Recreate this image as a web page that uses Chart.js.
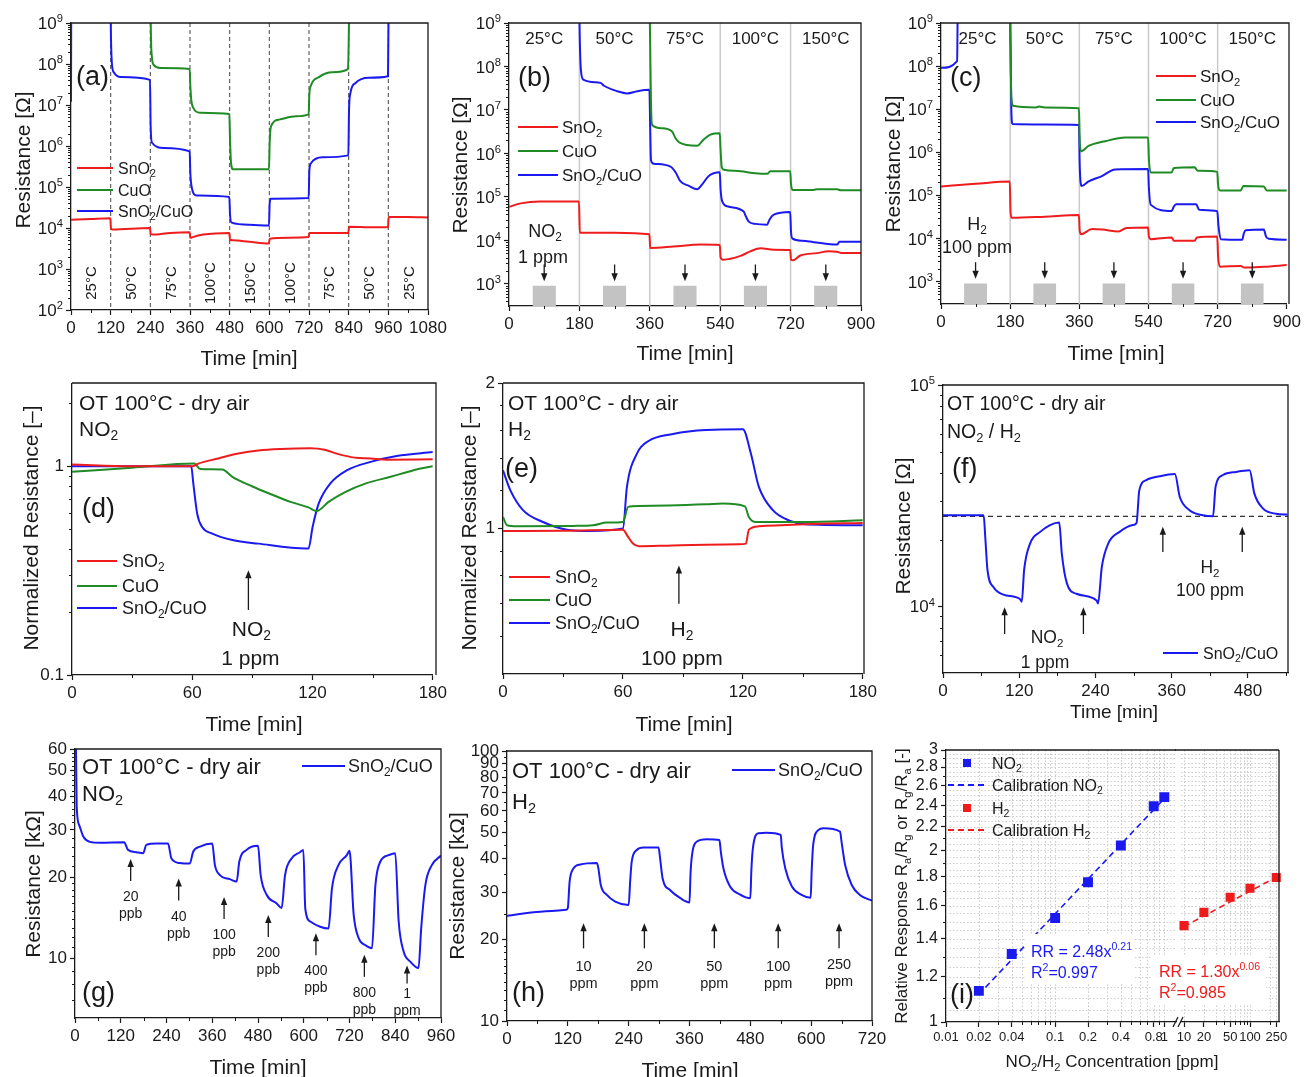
<!DOCTYPE html>
<html lang="en">
<head>
<meta charset="UTF-8">
<title>SnO2/CuO sensor - resistance and response</title>
<script src="https://cdn.jsdelivr.net/npm/chart.js"></script>
<style>
  body { margin: 0; background: #fff; }
  #page { position: relative; width: 1304px; height: 1077px; overflow: hidden; background: #fff; }
  #page canvas { position: absolute; }
</style>
</head>
<body>
<div id="page"></div>
<script>
const FONT = 'Arial, "Liberation Sans", sans-serif';
Chart.defaults.font.family = FONT;
Chart.defaults.color = '#1a1a1a';
const RED = '#ee1c1c', GREEN = '#1f8b24', BLUE = '#1a1af0', INK = '#1a1a1a';
const names = ['SnO_2', 'CuO', 'SnO_2/CuO'];

// ---- (a) temperature cycle, resistance in Ohm ----
const aTemps = ['25°C', '50°C', '75°C', '100°C', '150°C', '100°C', '75°C', '50°C', '25°C'];
const aSwitch = [120, 240, 360, 480, 600, 720, 840, 960];
const aTicksX = [0, 120, 240, 360, 480, 600, 720, 840, 960, 1080];
const aTicksY = [1e2, 1e3, 1e4, 1e5, 1e6, 1e7, 1e8, 1e9];
const aSnO2 = [[0,1.58e4],[60,1.66e4],[119,1.74e4],[121,9.6e3],[126,9.2e3],[239,1.0e4],[241,7.1e3],[246,6.9e3],[300,7.6e3],[359,7.9e3],[361,5.7e3],[366,5.9e3],[400,6.9e3],[479,7.6e3],[481,5.2e3],[490,5.0e3],[540,4.6e3],[599,4.2e3],[601,5.5e3],[660,5.8e3],[719,6.0e3],[721,7.6e3],[780,7.5e3],[839,7.5e3],[841,1.08e4],[900,1.05e4],[959,1.04e4],[961,1.85e4],[1020,1.85e4],[1080,1.8e4]];
const aCuO = [[240,5e9],[242,4e8],[245,1.4e8],[250,9.5e7],[270,8e7],[359,7.6e7],[361,3e7],[364,1.3e7],[370,8.5e6],[390,6.5e6],[479,6e6],[481,1.5e6],[484,4e5],[490,2.7e5],[599,2.7e5],[601,1.2e6],[605,3e6],[630,4.4e6],[680,5.3e6],[719,5.9e6],[721,1.8e7],[726,3e7],[750,4.8e7],[790,6.3e7],[838,7.5e7],[840,3e8],[842,5e9]];
const aMix = [[0,1.2e7],[1,5e9],[119,5e9],[121,4e8],[124,9.5e7],[130,6.2e7],[150,4.8e7],[239,4.1e7],[241,3e6],[245,1.2e6],[280,9e5],[359,7.4e5],[361,2.2e5],[365,1.0e5],[380,6.2e4],[479,5.7e4],[481,2.2e4],[486,1.35e4],[540,1.2e4],[599,1.15e4],[601,4e4],[605,5.2e4],[719,5.4e4],[721,2.5e5],[726,3.8e5],[760,5.3e5],[839,5.9e5],[841,7e6],[845,1.9e7],[860,3.4e7],[900,4.6e7],[959,5e7],[961,5e9]];

// ---- (b) NO2 1 ppm and (c) H2 100 ppm at each temperature ----
const bTemps = ['25°C', '50°C', '75°C', '100°C', '150°C'];
const bSwitch = [180, 360, 540, 720];
const bTicksX = [0, 180, 360, 540, 720, 900];
const bTicksY = [1e3, 1e4, 1e5, 1e6, 1e7, 1e8, 1e9];
const bPulses = [[60, 120], [240, 300], [420, 480], [600, 660], [780, 840]];
const pulseTop = 900;
const bSnO2 = [[0,5.9e4],[30,7.1e4],[80,7.8e4],[179,7.8e4],[181,1.5e4],[270,1.5e4],[359,1.38e4],[361,6.7e3],[420,7.2e3],[490,8e3],[539,7.8e3],[541,4.1e3],[547,3.6e3],[592,4.4e3],[617,5.6e3],[643,6.6e3],[677,6.1e3],[719,6e3],[721,3.6e3],[726,3.5e3],[745,4.5e3],[788,5.1e3],[817,5.6e3],[839,5.5e3],[850,5.1e3],[900,5.1e3]];
const bCuO = [[359,5e9],[361,3e8],[363,1.5e7],[366,4.5e6],[390,3.8e6],[417,3.2e6],[425,2.3e6],[435,1.8e6],[481,1.5e6],[498,2.1e6],[515,2.7e6],[539,2.9e6],[541,1.2e6],[544,4.8e5],[550,4.2e5],[592,3.9e5],[630,3.5e5],[660,3.4e5],[668,3.9e5],[719,3.9e5],[721,2e5],[725,1.45e5],[779,1.45e5],[788,1.5e5],[839,1.5e5],[848,1.42e5],[900,1.42e5]];
const bMix = [[179,5e9],[181,4e8],[184,8e7],[190,5e7],[234,4.2e7],[243,3.6e7],[277,2.7e7],[302,2.4e7],[328,2.7e7],[359,2.9e7],[361,4e6],[363,7e5],[370,5.8e5],[413,5e5],[425,3.8e5],[438,2.3e5],[460,1.8e5],[481,1.5e5],[495,2e5],[510,3e5],[539,3.7e5],[541,1.5e5],[545,8e4],[560,6e4],[600,4.6e4],[606,3.5e4],[613,2.7e4],[630,2.4e4],[660,2.3e4],[666,3e4],[677,3.9e4],[719,4.5e4],[721,1.6e4],[725,1.1e4],[750,9.8e3],[779,9.1e3],[839,8e3],[845,9.3e3],[900,9.3e3]];
const cSnO2 = [[0,1.6e5],[90,1.85e5],[179,2.1e5],[181,4e4],[184,3e4],[270,3.2e4],[359,3.5e4],[361,1.5e4],[365,1.25e4],[393,1.65e4],[420,1.6e4],[462,1.45e4],[483,1.75e4],[539,1.8e4],[541,1.1e4],[546,9.6e3],[600,1.05e4],[606,8.8e3],[660,8.8e3],[666,1.05e4],[719,1.1e4],[721,4e3],[726,2.2e3],[780,2.3e3],[789,2.1e3],[840,2.2e3],[900,2.4e3]];
const cCuO = [[179,5e9],[181,3e8],[183,2e7],[188,1.2e7],[247,1.1e7],[255,1.15e7],[270,1.1e7],[359,1.05e7],[361,2e6],[364,1.05e6],[384,1.4e6],[427,1.8e6],[479,2.2e6],[539,2.2e6],[541,7e5],[546,3.4e5],[600,3.4e5],[606,4.3e5],[660,4.5e5],[668,3.7e5],[719,3.5e5],[721,1.8e5],[726,1.3e5],[780,1.3e5],[787,1.65e5],[840,1.6e5],[848,1.3e5],[900,1.3e5]];
const cMix = [[0,9.1e7],[42,1.3e8],[44,5e9],[179,5e9],[181,3e8],[183,1e7],[186,4.5e6],[270,4.4e6],[359,4.3e6],[361,5e5],[366,1.65e5],[384,2.1e5],[419,2.8e5],[453,4e5],[539,4.1e5],[541,1.5e5],[546,6e4],[600,4.3e4],[606,5.5e4],[612,6.2e4],[664,6.2e4],[672,4.6e4],[719,4.3e4],[722,2e4],[728,9.6e3],[784,9.3e3],[788,1.3e4],[793,1.55e4],[840,1.6e4],[846,1.1e4],[853,9.8e3],[900,9.3e3]];

// ---- (d) NO2 and (e) H2 at 100 °C, normalized resistance ----
const dTicksX = [0, 60, 120, 180];
const dTicksY = [0.1, 1];
const eTicksY = [1, 2];
const dSnO2 = [[0,1.02],[30,1.0],[60,1.0],[63,1.03],[73,1.09],[83,1.15],[93,1.19],[104,1.21],[119,1.22],[126,1.2],[132,1.15],[141,1.10],[149,1.09],[157,1.075],[180,1.08]];
const dCuO = [[0,0.94],[30,0.985],[61,1.03],[64,0.97],[75,0.965],[80,0.89],[90,0.80],[100,0.73],[109,0.675],[118,0.635],[122,0.61],[128,0.675],[136,0.75],[147,0.83],[159,0.89],[170,0.955],[180,1.0]];
const dMix = [[0,1.0],[59.5,1.0],[60.5,0.83],[62.5,0.59],[65,0.51],[70,0.476],[80,0.443],[93,0.426],[117,0.404],[118,0.404],[120,0.51],[123,0.66],[129,0.83],[137,0.955],[149,1.05],[162,1.12],[180,1.17]];
const eSnO2 = [[0,0.989],[30,0.99],[60,0.995],[62.6,0.961],[65,0.931],[68,0.919],[85,0.923],[118,0.928],[121.5,0.931],[123,0.995],[128,1.011],[151,1.021],[180,1.027]];
const eCuO = [[0,1.057],[2,1.016],[7,1.011],[35,1.013],[45,1.016],[52,1.029],[60,1.032],[62.6,1.109],[68,1.114],[101.6,1.123],[110,1.127],[121,1.112],[123,1.057],[126.5,1.032],[151,1.032],[180,1.041]];
const eMix = [[0,1.32],[3.7,1.20],[10,1.092],[20,1.032],[32,0.995],[43.5,0.989],[60,1.0],[62,1.22],[67,1.43],[73,1.52],[85,1.57],[101.6,1.60],[120,1.605],[124,1.43],[128,1.22],[135,1.092],[143,1.04],[151,1.021],[180,1.016]];

// ---- (f) NO2 / H2 sequence, SnO2/CuO ----
const fTicksX = [0, 120, 240, 360, 480];
const fTicksY = [1e4, 1e5];
const fBaseline = 2.55e4;
const fMix = [[0,2.58e4],[64,2.58e4],[66.5,2.06e4],[70,1.46e4],[79.6,1.22e4],[95,1.13e4],[121,1.08e4],[124,1.05e4],[127.7,1.46e4],[137,1.92e4],[153,2.17e4],[168.5,2.33e4],[183,2.39e4],[187,1.73e4],[195,1.27e4],[210,1.14e4],[242,1.06e4],[244,1.03e4],[250,1.51e4],[260,1.92e4],[278,2.17e4],[299,2.33e4],[304.6,2.38e4],[309,3.35e4],[320,3.72e4],[341,3.87e4],[365,3.96e4],[372.7,3.12e4],[388,2.72e4],[409,2.58e4],[425,2.55e4],[429,3.47e4],[440.7,3.92e4],[461.6,4.05e4],[482.6,4.12e4],[490,3.24e4],[503.5,2.77e4],[524.5,2.62e4],[542,2.6e4]];
const fNO2Arrows = [97, 221];
const fH2Arrows = [346, 471];

// ---- (g) NO2 steps and (h) H2 steps, kOhm ----
const gTicksX = [0, 120, 240, 360, 480, 600, 720, 840, 960];
const gTicksY = [10, 20, 30, 40, 50, 60];
const gMix = [[0,75],[2.6,59.6],[4.5,36.5],[11,31.3],[22,28.3],[39,27.1],[66,26.9],[129,27.0],[139,25.3],[161,24.8],[179,24.6],[187,26.4],[214,26.7],[244,26.7],[253,23.5],[275,22.6],[301,22.5],[310,24.9],[328,26.0],[360,26.7],[367,22.2],[380,20.4],[406,19.7],[424,19.3],[431,22.9],[450,25.3],[480,26.2],[487,20.4],[503,17.2],[529,16.0],[542,15.4],[551,20.4],[568,23.5],[590,24.8],[599,25.3],[604,15.3],[617,13.7],[643,13.1],[665,12.9],[674,18.2],[691,22.2],[713,24.2],[720,25.1],[731,14.5],[744,11.9],[761,11.2],[779,10.9],[788,18.7],[801,22.9],[823,24.2],[840,24.6],[849,13.7],[862,10.6],[880,9.7],[901,9.2],[908,12.9],[919,18.7],[936,22.2],[960,24.1]];
const gDoses = [['20','ppb'],['40','ppb'],['100','ppb'],['200','ppb'],['400','ppb'],['800','ppb'],['1','ppm']];
const gArrowX = [146, 272, 391, 507, 632, 759, 871];
const gArrowTip = [23.4, 19.8, 16.9, 14.5, 12.4, 10.3, 9.4];
const hTicksX = [0, 120, 240, 360, 480, 600, 720];
const hTicksY = [10, 20, 30, 40, 50, 60, 70, 80, 90, 100];
const hMix = [[0,24.5],[66,25.4],[117,25.8],[120,26.2],[123.5,32.8],[131,36.7],[144.5,38.0],[177,38.5],[180,37],[185,31.9],[197,29.3],[213.5,27.7],[240,26.9],[243,33],[246,38.9],[256,43.0],[269,43.9],[299,43.9],[302,40],[307,33.7],[322,30.5],[342,28.5],[360,27.5],[362,35],[365,41.2],[374,46.1],[394,47.1],[419,46.8],[422,42],[427,36.7],[440,31.5],[460,29.4],[480,28.5],[482,36],[485,43.6],[496,49.6],[512,49.8],[540,48.9],[542,44],[549,36.7],[562,31.5],[581,29.3],[599,28.6],[601,36],[604,44.9],[614,50.9],[624,51.7],[657,50.3],[660,46],[667,37.8],[680,31.9],[696,29.3],[720,27.9]];
const hDoses = ['10', '20', '50', '100', '250'];
const hArrowX = [151, 271, 409, 535, 655];
const hArrowTip = 23;

// ---- (i) calibration ----
const iTicksXL = [0.01, 0.02, 0.04, 0.1, 0.2, 0.4, 0.8, 1];
const iTicksXR = [10, 20, 50, 100, 250];
const iTicksY = [1, 1.2, 1.4, 1.6, 1.8, 2, 2.2, 2.4, 2.6, 2.8, 3];
const iNO2x = [0.02, 0.04, 0.1, 0.2, 0.4, 0.8, 1];
const iNO2y = [1.134, 1.316, 1.522, 1.759, 2.04, 2.39, 2.48];
const iH2x = [10, 20, 50, 100, 250];
const iH2y = [1.476, 1.557, 1.655, 1.717, 1.793];
const iCalNO2 = [[0.023, 1.15], [0.95, 2.44]];
const iCalH2 = [[10, 1.47], [260, 1.80]];

// ---------- helpers ----------
function logMinor(lo, hi) {
  const out = [];
  for (let e = Math.floor(Math.log10(lo)); e <= Math.ceil(Math.log10(hi)); e++) {
    for (let m = 2; m <= 9; m++) {
      const v = +(m * Math.pow(10, e)).toPrecision(6);
      if (v > lo && v < hi) out.push(v);
    }
  }
  return out;
}
function steps(a, b, s) {
  const o = [];
  for (let v = a; v <= b + 1e-9; v += s) o.push(+v.toFixed(6));
  return o;
}
const zip = (xs, ys) => xs.map((x, i) => [x, ys[i]]);

// text with _sub and ^sup parts; y is the middle of the capitals
function rich(ctx, str, x, y, size, o) {
  o = o || {};
  const segs = [];
  let i = 0, buf = '';
  while (i < str.length) {
    const ch = str[i];
    if ((ch === '_' || ch === '^') && i + 1 < str.length) {
      if (buf) { segs.push({t: buf, k: 0}); buf = ''; }
      let s;
      if (str[i + 1] === '{') { const j = str.indexOf('}', i); s = str.slice(i + 2, j); i = j + 1; }
      else { s = str[i + 1]; i += 2; }
      segs.push({t: s, k: ch === '_' ? 1 : -1});
    } else { buf += ch; i++; }
  }
  if (buf) segs.push({t: buf, k: 0});
  const fnt = k => (k ? size * 0.66 : size) + 'px ' + FONT;
  let w = 0;
  segs.forEach(s => { ctx.font = fnt(s.k); s.w = ctx.measureText(s.t).width; w += s.w; });
  ctx.save();
  ctx.translate(x, y);
  if (o.rot) ctx.rotate(o.rot);
  ctx.fillStyle = o.color || INK;
  ctx.textBaseline = 'alphabetic';
  ctx.textAlign = 'left';
  let cx = o.align === 'center' ? -w / 2 : o.align === 'right' ? -w : 0;
  segs.forEach(s => {
    ctx.font = fnt(s.k);
    const dy = s.k === 1 ? size * 0.2 : s.k === -1 ? -size * 0.4 : 0;
    ctx.fillText(s.t, cx, size * 0.36 + dy);
    cx += s.w;
  });
  ctx.restore();
  return w;
}
function line(ctx, x0, y0, x1, y1, color, width, dash) {
  ctx.save();
  ctx.strokeStyle = color; ctx.lineWidth = width; ctx.setLineDash(dash || []);
  ctx.beginPath(); ctx.moveTo(x0, y0); ctx.lineTo(x1, y1); ctx.stroke();
  ctx.restore();
}
function arrow(ctx, x, y0, y1) {
  const dir = Math.sign(y1 - y0);
  line(ctx, x, y0, x, y1 - dir * 6, INK, 1.3);
  ctx.save();
  ctx.fillStyle = INK;
  ctx.beginPath(); ctx.moveTo(x, y1); ctx.lineTo(x - 3.2, y1 - dir * 8); ctx.lineTo(x + 3.2, y1 - dir * 8);
  ctx.closePath(); ctx.fill();
  ctx.restore();
}
function legend(ctx, rows, x0, x1, tx, size) {
  rows.forEach(r => {
    if (r.marker) {
      ctx.fillStyle = r.color;
      ctx.fillRect((x0 + x1) / 2 - 4, r.y - 4, 8, 8);
    } else {
      line(ctx, x0, r.y, x1, r.y, r.color, 2.2, r.dash);
    }
    rich(ctx, r.label, tx, r.y, size);
  });
}
const threeRows = ys => names.map((n, i) => ({y: ys[i], color: [RED, GREEN, BLUE][i], label: n}));
function frame(ctx, a) {
  ctx.save(); ctx.strokeStyle = INK; ctx.lineWidth = 1.3;
  ctx.beginPath(); ctx.moveTo(a.l, a.t); ctx.lineTo(a.r, a.t); ctx.lineTo(a.r, a.b); ctx.stroke();
  ctx.restore();
}
function minor(ctx, X, Y, a, xs, ys) {
  ctx.save(); ctx.strokeStyle = INK; ctx.lineWidth = 1; ctx.beginPath();
  (xs || []).forEach(v => { const px = Math.round(X(v)) + 0.5; ctx.moveTo(px, a.b); ctx.lineTo(px, a.b + 3); });
  (ys || []).forEach(v => { const py = Math.round(Y(v)) + 0.5; ctx.moveTo(a.l, py); ctx.lineTo(a.l - 3, py); });
  ctx.stroke(); ctx.restore();
}
function grid(ctx, X, Y, a, xs, ys) {
  ctx.save(); ctx.strokeStyle = '#cdcdcd'; ctx.lineWidth = 1; ctx.setLineDash([1.5, 2]);
  ctx.beginPath();
  xs.forEach(v => { const px = Math.round(X(v)) + 0.5; ctx.moveTo(px, a.t); ctx.lineTo(px, a.b); });
  ys.forEach(v => { const py = Math.round(Y(v)) + 0.5; ctx.moveTo(a.l, py); ctx.lineTo(a.r, py); });
  ctx.stroke(); ctx.restore();
}
function titles(ctx, xt, xc, yt, yc, size) {
  rich(ctx, xt[0], xc[0], xc[1], size || 21, {align: 'center'});
  rich(ctx, yt[0], yc[0], yc[1], yt[1] || 21, {align: 'center', rot: -Math.PI / 2});
}

function scaleOpts(ax, size, horiz) {
  return {
    type: ax.log ? 'logarithmic' : 'linear',
    display: !ax.hide,
    min: ax.min, max: ax.max,
    afterBuildTicks: s => { s.ticks = ax.ticks.map(v => ({value: v})); },
    afterFit: s => { if (horiz) s.height = size; else s.width = size; },
    ticks: { autoSkip: false, maxRotation: 0, minRotation: 0, padding: 3, color: INK,
             font: {size: ax.fs || 17}, callback: v => ax.pow ? '' : String(v) },
    grid: { drawOnChartArea: false, drawTicks: true, tickLength: 5, color: INK, tickColor: INK, tickWidth: 1.2 },
    border: { display: true, color: INK, width: 1.3 }
  };
}

const page = document.getElementById('page');
function panel(p) {
  const [bl, bt, bw, bh] = p.box;
  const [al, at, ar, ab] = p.area;
  const area = {l: al, t: at, r: ar, b: ab};
  const cv = document.createElement('canvas');
  cv.width = bw; cv.height = bh;
  cv.style.left = bl + 'px'; cv.style.top = bt + 'px';
  cv.style.width = bw + 'px'; cv.style.height = bh + 'px';
  page.appendChild(cv);
  const run = fn => chart => {
    const ctx = chart.ctx, sx = chart.scales.x, sy = chart.scales.y;
    const X = v => sx.getPixelForValue(v) + bl;
    const Y = v => sy.getPixelForValue(v) + bt;
    ctx.save(); ctx.translate(-bl, -bt);
    fn(ctx, X, Y, area);
    ctx.restore();
  };
  const deco = {
    id: 'deco',
    beforeDatasetsDraw: run((ctx, X, Y, a) => { if (p.under) p.under(ctx, X, Y, a); }),
    afterDatasetsDraw: run((ctx, X, Y, a) => {
      if (!p.noFrame) frame(ctx, a);
      minor(ctx, X, Y, a, p.x.minor, p.y.hide ? null : p.y.minor);
      if (p.y.pow) p.y.ticks.forEach(v => rich(ctx, '10^{' + Math.round(Math.log10(v)) + '}', a.l - 8, Y(v), p.y.fs || 17, {align: 'right'}));
      if (p.over) p.over(ctx, X, Y, a);
    })
  };
  return new Chart(cv, {
    type: 'line',
    data: {
      datasets: p.series.map(s => ({
        data: s.data,
        borderColor: s.fill ? 'rgba(0,0,0,0)' : s.color,
        backgroundColor: s.color,
        borderWidth: s.width || 2,
        borderDash: s.dash || [],
        showLine: !s.points,
        pointRadius: s.r || 0,
        pointStyle: 'rect',
        cubicInterpolationMode: 'monotone',
        fill: s.fill ? 'start' : false,
        clip: s.points ? false : undefined
      }))
    },
    options: {
      responsive: false, animation: false, devicePixelRatio: 1, events: [],
      // the y axis box keeps its fixed width even when hidden, so no extra left padding
      layout: { autoPadding: false, padding: { left: 0, top: at - bt, right: bl + bw - ar, bottom: 0 } },
      plugins: { legend: {display: false}, tooltip: {enabled: false} },
      scales: { x: scaleOpts(p.x, bt + bh - ab, true), y: scaleOpts(p.y, al - bl, false) }
    },
    plugins: [deco]
  });
}
const mids = (edges) => edges.slice(1).map((e, i) => (edges[i] + e) / 2);
const pulseBars = pulses => pulses.map(([t0, t1]) => ({data: [[t0, pulseTop], [t1, pulseTop]], color: '#c3c3c3', fill: true}));

// ---------- (a) ----------
panel({
  box: [0, 0, 450, 372], area: [71, 23, 428, 310],
  x: {min: 0, max: 1080, ticks: aTicksX, minor: steps(60, 1020, 120)},
  y: {log: true, min: 1e2, max: 1e9, ticks: aTicksY, pow: true, minor: logMinor(1e2, 1e9)},
  series: [{data: aSnO2, color: RED}, {data: aCuO, color: GREEN}, {data: aMix, color: BLUE}],
  under(ctx, X, Y, a) { aSwitch.forEach(t => line(ctx, X(t), a.t, X(t), a.b, '#555', 1.1, [4, 3])); },
  over(ctx, X, Y, a) {
    mids([0, ...aSwitch, 1080]).forEach((t, i) => rich(ctx, aTemps[i], X(t), a.b - 27, 15, {align: 'center', rot: -Math.PI / 2}));
    legend(ctx, threeRows([168, 190, 211]), 77, 113, 118, 16);
    rich(ctx, '(a)', 76, 75, 27);
    titles(ctx, ['Time [min]'], [249, 357], ['Resistance [Ω]'], [22, 160]);
  }
});

// ---------- (b) ----------
panel({
  box: [440, 0, 440, 372], area: [509, 23, 861, 306],
  x: {min: 0, max: 900, ticks: bTicksX, minor: steps(90, 810, 180)},
  y: {log: true, min: 310, max: 1e9, ticks: bTicksY, pow: true, minor: logMinor(310, 1e9)},
  series: [{data: bSnO2, color: RED}, {data: bCuO, color: GREEN}, {data: bMix, color: BLUE}, ...pulseBars(bPulses)],
  under(ctx, X, Y, a) { bSwitch.forEach(t => line(ctx, X(t), a.t, X(t), a.b, '#cacaca', 1.5)); },
  over(ctx, X, Y, a) {
    mids([0, ...bSwitch, 900]).forEach((t, i) => rich(ctx, bTemps[i], X(t), 38, 17, {align: 'center'}));
    bPulses.forEach(([t0, t1]) => arrow(ctx, X((t0 + t1) / 2), Y(2.8e3), Y(1.15e3)));
    rich(ctx, 'NO_2', 545, 231, 18, {align: 'center'});
    rich(ctx, '1 ppm', 543, 257, 18, {align: 'center'});
    legend(ctx, threeRows([127, 151, 175]), 518, 558, 562, 17);
    rich(ctx, '(b)', 518, 76, 27);
    titles(ctx, ['Time [min]'], [685, 352], ['Resistance [Ω]'], [459, 165]);
  }
});

// ---------- (c) ----------
panel({
  box: [870, 0, 434, 372], area: [941, 23, 1289, 304],
  x: {min: 0, max: 900, ticks: bTicksX, minor: steps(90, 810, 180)},
  y: {log: true, min: 300, max: 1e9, ticks: bTicksY, pow: true, minor: logMinor(300, 1e9)},
  series: [{data: cSnO2, color: RED}, {data: cCuO, color: GREEN}, {data: cMix, color: BLUE}, ...pulseBars(bPulses)],
  under(ctx, X, Y, a) { bSwitch.forEach(t => line(ctx, X(t), a.t, X(t), a.b, '#cacaca', 1.5)); },
  over(ctx, X, Y, a) {
    mids([0, ...bSwitch, 900]).forEach((t, i) => rich(ctx, bTemps[i], X(t) + (i ? 0 : 2), 38, 17, {align: 'center'}));
    bPulses.forEach(([t0, t1]) => arrow(ctx, X((t0 + t1) / 2), Y(2.8e3), Y(1.15e3)));
    rich(ctx, 'H_2', 977, 224, 18, {align: 'center'});
    rich(ctx, '100 ppm', 977, 247, 18, {align: 'center'});
    legend(ctx, threeRows([76, 100, 122]), 1156, 1196, 1200, 17);
    rich(ctx, '(c)', 950, 76, 27);
    titles(ctx, ['Time [min]'], [1116, 352], ['Resistance [Ω]'], [892, 164]);
  }
});

// ---------- (d) ----------
panel({
  box: [0, 370, 450, 370], area: [72, 383, 436, 675],
  x: {min: 0, max: 180, ticks: dTicksX, minor: [30, 90, 150]},
  y: {log: true, min: 0.1, max: 2.5, ticks: dTicksY, minor: [0.2, 0.3, 0.4, 0.5, 0.6, 0.7, 0.8, 0.9, 2]},
  series: [{data: dSnO2, color: RED}, {data: dCuO, color: GREEN}, {data: dMix, color: BLUE}],
  over(ctx, X, Y, a) {
    rich(ctx, 'OT 100°C - dry air', 79, 402, 21);
    rich(ctx, 'NO_2', 79, 428, 21);
    rich(ctx, '(d)', 82, 507, 27);
    legend(ctx, threeRows([561, 586, 608]), 77, 117, 122, 18);
    arrow(ctx, X(88), Y(0.205), Y(0.318));
    rich(ctx, 'NO_2', X(88) + 3, 628, 21, {align: 'center'});
    rich(ctx, '1 ppm', X(88) + 2, 657, 21, {align: 'center'});
    titles(ctx, ['Time [min]'], [254, 723], ['Normalized Resistance [–]'], [30, 528]);
  }
});

// ---------- (e) ----------
panel({
  box: [440, 370, 440, 370], area: [503, 383, 864, 674],
  x: {min: 0, max: 180, ticks: dTicksX, minor: [30, 90, 150]},
  y: {log: true, min: 0.5, max: 2, ticks: eTicksY, minor: [0.6, 0.7, 0.8, 0.9, 1.2, 1.4, 1.6, 1.8]},
  series: [{data: eSnO2, color: RED}, {data: eCuO, color: GREEN}, {data: eMix, color: BLUE}],
  over(ctx, X, Y, a) {
    rich(ctx, 'OT 100°C - dry air', 508, 402, 21);
    rich(ctx, 'H_2', 508, 428, 21);
    rich(ctx, '(e)', 505, 467, 27);
    legend(ctx, threeRows([577, 600, 623]), 509, 550, 555, 18);
    arrow(ctx, X(88), Y(0.699), Y(0.839));
    rich(ctx, 'H_2', X(88) + 3, 628, 21, {align: 'center'});
    rich(ctx, '100 ppm', X(88) + 3, 657, 21, {align: 'center'});
    titles(ctx, ['Time [min]'], [684, 723], ['Normalized Resistance [–]'], [468, 528]);
  }
});

// ---------- (f) ----------
panel({
  box: [870, 370, 434, 370], area: [943, 385, 1288, 673],
  x: {min: 0, max: 543, ticks: fTicksX, minor: [60, 180, 300, 420, 540]},
  y: {log: true, min: 5000, max: 1e5, ticks: fTicksY, pow: true, minor: logMinor(5000, 1e5)},
  series: [{data: fMix, color: BLUE}],
  under(ctx, X, Y, a) { line(ctx, a.l, Y(fBaseline), a.r, Y(fBaseline), '#333', 1.2, [5, 4]); },
  over(ctx, X, Y, a) {
    rich(ctx, 'OT 100°C - dry air', 947, 403, 19.5);
    rich(ctx, 'NO_2 / H_2', 947, 431, 19.5);
    rich(ctx, '(f)', 952, 467, 27);
    fNO2Arrows.forEach(t => arrow(ctx, X(t), Y(7.5e3), Y(9.9e3)));
    fH2Arrows.forEach(t => arrow(ctx, X(t), Y(1.76e4), Y(2.29e4)));
    rich(ctx, 'NO_2', 1047, 637, 17.5, {align: 'center'});
    rich(ctx, '1 ppm', 1045, 662, 17.5, {align: 'center'});
    rich(ctx, 'H_2', 1210, 567, 17.5, {align: 'center'});
    rich(ctx, '100 ppm', 1210, 590, 17.5, {align: 'center'});
    legend(ctx, [{y: 653, color: BLUE, label: 'SnO_2/CuO'}], 1163, 1198, 1203, 16);
    titles(ctx, ['Time [min]'], [1114, 711], ['Resistance [Ω]'], [902, 526], 19);
  }
});

// ---------- (g) ----------
panel({
  box: [0, 735, 460, 342], area: [75, 749, 441, 1018],
  x: {min: 0, max: 960, ticks: gTicksX, minor: steps(60, 900, 120)},
  y: {log: true, min: 6, max: 60, ticks: gTicksY, minor: [7, 8, 9, 11, 12, 13, 14, 15, 16, 17, 18, 19, 22, 24, 26, 28, 32, 34, 36, 38, 42, 44, 46, 48, 52, 54, 56, 58]},
  series: [{data: gMix, color: BLUE}],
  over(ctx, X, Y, a) {
    rich(ctx, 'OT 100°C - dry air', 82, 766, 22);
    rich(ctx, 'NO_2', 82, 793, 22);
    rich(ctx, '(g)', 82, 991, 27);
    gArrowX.forEach((t, i) => {
      const last = i === gArrowX.length - 1;   // the 1 ppm arrow is squeezed above the axis
      const tip = Y(gArrowTip[i]), tail = tip + (last ? 18 : 22);
      arrow(ctx, X(t), tail, tip);
      rich(ctx, gDoses[i][0], X(t), tail + (last ? 9 : 15), 14, {align: 'center'});
      rich(ctx, gDoses[i][1], X(t), tail + (last ? 26 : 32), 14, {align: 'center'});
    });
    legend(ctx, [{y: 766, color: BLUE, label: 'SnO_2/CuO'}], 302, 345, 348, 18);
    titles(ctx, ['Time [min]'], [258, 1066], ['Resistance [kΩ]'], [32, 884]);
  }
});

// ---------- (h) ----------
panel({
  box: [440, 735, 450, 342], area: [507, 751, 872, 1021],
  x: {min: 0, max: 720, ticks: hTicksX, minor: steps(60, 660, 120)},
  y: {log: true, min: 10, max: 100, ticks: hTicksY, minor: [11, 12, 13, 14, 15, 16, 17, 18, 19, 25, 35, 45, 55, 65, 75, 85, 95]},
  series: [{data: hMix, color: BLUE}],
  over(ctx, X, Y, a) {
    rich(ctx, 'OT 100°C - dry air', 512, 770, 22);
    rich(ctx, 'H_2', 512, 801, 22);
    rich(ctx, '(h)', 512, 991, 27);
    hArrowX.forEach((t, i) => {
      const tip = Y(hArrowTip), tail = tip + 25;
      arrow(ctx, X(t), tail, tip);
      rich(ctx, hDoses[i], X(t), tail + 17 - (i === 4 ? 2 : 0), 14.5, {align: 'center'});
      rich(ctx, 'ppm', X(t), tail + 34 - (i === 4 ? 2 : 0), 14.5, {align: 'center'});
    });
    legend(ctx, [{y: 770, color: BLUE, label: 'SnO_2/CuO'}], 732, 775, 778, 18);
    titles(ctx, ['Time [min]'], [690, 1069], ['Resistance [kΩ]'], [456, 886]);
  }
});

// ---------- (i) left part: NO2 ----------
const iGridY = steps(1.05, 2.95, 0.05);
panel({
  box: [870, 735, 434, 342], area: [946, 750, 1176, 1022], noFrame: true,
  x: {log: true, min: 0.01, max: 1.28, ticks: iTicksXL, fs: 13, minor: [0.03, 0.05, 0.06, 0.07, 0.08, 0.09, 0.3, 0.5, 0.6, 0.7, 0.9]},
  y: {log: true, min: 1, max: 3, ticks: iTicksY, fs: 16, minor: steps(1.1, 2.9, 0.2)},
  series: [{data: zip(iNO2x, iNO2y), color: BLUE, points: true, r: 5.6}, {data: iCalNO2, color: BLUE, width: 1.6, dash: [6, 4]}],
  under(ctx, X, Y, a) { grid(ctx, X, Y, a, [...iTicksXL, ...logMinor(0.01, 1)], iGridY); },
  over(ctx, X, Y, a) {
    line(ctx, a.l, a.t, a.r, a.t, INK, 1.3);
    ctx.fillStyle = '#fff';
    ctx.fillRect(1025, 934, 110, 50);
    rich(ctx, 'RR = 2.48x^{0.21}', 1031, 951, 16, {color: BLUE});
    rich(ctx, 'R^2=0.997', 1031, 972, 16, {color: BLUE});
    legend(ctx, [
      {y: 763, color: BLUE, label: 'NO_2', marker: true},
      {y: 785, color: BLUE, label: 'Calibration NO_2', dash: [6, 4]},
      {y: 808, color: RED, label: 'H_2', marker: true},
      {y: 830, color: RED, label: 'Calibration H_2', dash: [6, 4]}
    ], 948, 986, 992, 16);
    rich(ctx, '(i)', 950, 993, 27);
    titles(ctx, ['NO_2/H_2 Concentration [ppm]'], [1112, 1061], ['Relative Response R_a/R_g or R_g/R_a [-]', 17], [901, 886], 17);
  }
});

// ---------- (i) right part: H2 ----------
panel({
  box: [1140, 735, 164, 342], area: [1181, 750, 1279, 1022], noFrame: true,
  x: {log: true, min: 9, max: 275, ticks: iTicksXR, fs: 13, minor: [30, 40, 60, 70, 80, 90, 200]},
  y: {log: true, min: 1, max: 3, ticks: iTicksY, hide: true},
  series: [{data: zip(iH2x, iH2y), color: RED, points: true, r: 5}, {data: iCalH2, color: RED, width: 1.6, dash: [6, 4]}],
  under(ctx, X, Y, a) { grid(ctx, X, Y, a, [...iTicksXR, ...logMinor(9, 275)], iGridY); },
  over(ctx, X, Y, a) {
    line(ctx, 1175, a.t, a.r, a.t, INK, 1.3);
    line(ctx, a.r, a.t, a.r, a.b, INK, 1.3);
    line(ctx, 1173, a.b + 5, 1178, a.b - 5, INK, 1.2);
    line(ctx, 1178, a.b + 5, 1183, a.b - 5, INK, 1.2);
    ctx.fillStyle = '#fff';
    ctx.fillRect(1152, 955, 114, 50);
    rich(ctx, 'RR = 1.30x^{0.06}', 1159, 971, 16, {color: RED});
    rich(ctx, 'R^2=0.985', 1159, 992, 16, {color: RED});
  }
});
</script>
</body>
</html>
